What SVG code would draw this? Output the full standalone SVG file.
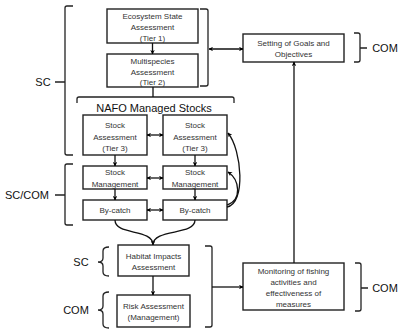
<svg xmlns="http://www.w3.org/2000/svg" width="402" height="329" viewBox="0 0 402 329">
<defs>
<marker id="ah" viewBox="0 0 10 10" refX="9" refY="5" markerWidth="4.5" markerHeight="4.5" orient="auto-start-reverse" markerUnits="userSpaceOnUse">
<path d="M0,0 L10,5 L0,10 L3,5 z" fill="#000"/>
</marker>
</defs>
<style>
.box{fill:#fff;stroke:#222;stroke-width:1.4}
.t{font-family:"Liberation Sans",Arial,sans-serif;font-size:8px;fill:#333;text-anchor:middle}
.lb{font-family:"Liberation Sans",Arial,sans-serif;font-size:11px;fill:#111;text-anchor:middle}
.c{fill:none;stroke:#111;stroke-width:1.3}
.br{fill:none;stroke:#222;stroke-width:1.3}
</style>
<rect width="402" height="329" fill="#fff"/>

<g id="n-ecosystem"><rect class="box" x="107" y="9" width="91" height="34"/>
<text class="t" x="152.5" y="18.5">Ecosystem State</text><text class="t" x="152.5" y="30">Assessment</text><text class="t" x="152.5" y="40.5">(Tier 1)</text></g>
<g id="n-multispecies"><rect class="box" x="107" y="54" width="91" height="33"/>
<text class="t" x="152.5" y="63.5">Multispecies</text><text class="t" x="152.5" y="74.5">Assessment</text><text class="t" x="152.5" y="84.5">(Tier 2)</text></g>

<g id="n-nafo"><text class="lb" x="154" y="112" font-size="12">NAFO Managed Stocks</text></g>

<g id="n-sa1"><rect class="box" x="83" y="115" width="64" height="40"/>
<text class="t" x="115" y="128">Stock</text><text class="t" x="115" y="140">Assessment</text><text class="t" x="115" y="151">(Tier 3)</text></g>
<g id="n-sa2"><rect class="box" x="163" y="115" width="64" height="40"/>
<text class="t" x="195" y="128">Stock</text><text class="t" x="195" y="140">Assessment</text><text class="t" x="195" y="151">(Tier 3)</text></g>
<g id="n-sm1"><rect class="box" x="83" y="166" width="64" height="23"/>
<text class="t" x="115" y="175">Stock</text><text class="t" x="115" y="187">Management</text></g>
<g id="n-sm2"><rect class="box" x="163" y="166" width="64" height="23"/>
<text class="t" x="195" y="175">Stock</text><text class="t" x="195" y="187">Management</text></g>
<g id="n-bc1"><rect class="box" x="83" y="200" width="64" height="20"/>
<text class="t" x="115" y="213">By-catch</text></g>
<g id="n-bc2"><rect class="box" x="163" y="200" width="64" height="20"/>
<text class="t" x="195" y="213">By-catch</text></g>

<g id="n-habitat"><rect class="box" x="118" y="245" width="71" height="31"/>
<text class="t" x="153.5" y="259">Habitat Impacts</text><text class="t" x="153.5" y="270">Assessment</text></g>
<g id="n-risk"><rect class="box" x="117" y="295" width="73" height="32"/>
<text class="t" x="153.5" y="309">Risk Assessment</text><text class="t" x="153.5" y="320">(Management)</text></g>

<g id="n-goals"><rect class="box" x="243" y="34" width="101" height="28"/>
<text class="t" x="293.5" y="46">Setting of Goals and</text><text class="t" x="293.5" y="57">Objectives</text></g>
<g id="n-monitoring"><rect class="box" x="243" y="263" width="101" height="47"/>
<text class="t" x="293.5" y="274">Monitoring of fishing</text><text class="t" x="293.5" y="285">activities and</text><text class="t" x="293.5" y="296">effectiveness of</text><text class="t" x="293.5" y="307">measures</text></g>

<g id="n-brackets">
<path class="br" d="M73,6 L67,6 Q65,6 65,8 L65,153 Q65,155 67,155 L73,155 M55,82 L65,82"/>
<text class="lb" x="43" y="86">SC</text>
<path class="br" d="M73,164 L67,164 Q65,164 65,166 L65,223 Q65,225 67,225 L73,225 M55,195 L65,195"/>
<text class="lb" x="27" y="199">SC/COM</text>
<path class="br" d="M109,247 Q103,247 103,251 L103,258 Q103,262 98,262 Q103,262 103,266 L103,272 Q103,276 109,276"/>
<text class="lb" x="81" y="266">SC</text>
<path class="br" d="M109,292 Q103,292 103,296 L103,306 Q103,310 98,310 Q103,310 103,314 L103,324 Q103,328 109,328"/>
<text class="lb" x="76" y="314">COM</text>
<path class="br" d="M77,103 L77,99 Q77,97 79,97 L232,97 Q234,97 234,99 L234,103"/>
<path class="br" d="M200,9 L206,9 Q208,9 208,11 L208,84 Q208,86 206,86 L200,86"/>
<path class="br" d="M354,33 L358,33 Q360,33 360,35 L360,60 Q360,62 358,62 L354,62 M360,48 L367,48"/>
<text class="lb" x="385" y="52">COM</text>
<path class="br" d="M205,246 L210,246 Q212,246 212,248 L212,325 Q212,327 210,327 L205,327"/>
<path class="br" d="M355,263 L359,263 Q361,263 361,265 L361,309 Q361,311 359,311 L355,311 M361,288 L368,288"/>
<text class="lb" x="385" y="292">COM</text>
</g>

<g id="connectors">
<path class="c" d="M152.5,43 L152.5,54" marker-end="url(#ah)"/>
<path class="c" d="M153,87 L153,97"/>
<path class="c" d="M209,49 L243,49" marker-start="url(#ah)" marker-end="url(#ah)"/>
<path class="c" d="M294,263 L294,62" marker-end="url(#ah)"/>
<path class="c" d="M115,155 L115,166" marker-end="url(#ah)"/>
<path class="c" d="M195,155 L195,166" marker-end="url(#ah)"/>
<path class="c" d="M115,189 L115,200" marker-end="url(#ah)"/>
<path class="c" d="M195,189 L195,200" marker-end="url(#ah)"/>
<path class="c" d="M147,135 L163,135" marker-start="url(#ah)" marker-end="url(#ah)"/>
<path class="c" d="M147,178 L163,178" marker-start="url(#ah)" marker-end="url(#ah)"/>
<path class="c" d="M147,210 L163,210" marker-start="url(#ah)" marker-end="url(#ah)"/>
<path class="c" d="M227,207 C246,204 242,150 228,133" marker-end="url(#ah)"/>
<path class="c" d="M227,205 C242,200 240,180 228,172" marker-end="url(#ah)"/>
<path class="c" d="M115,220 C115,236 153,228 153,245" marker-end="url(#ah)"/>
<path class="c" d="M195,220 C195,236 153,228 153,245"/>
<path class="c" d="M153,276 L153,295" marker-end="url(#ah)"/>
<path class="c" d="M212,287 L243,287" marker-end="url(#ah)"/>
</g>
</svg>
